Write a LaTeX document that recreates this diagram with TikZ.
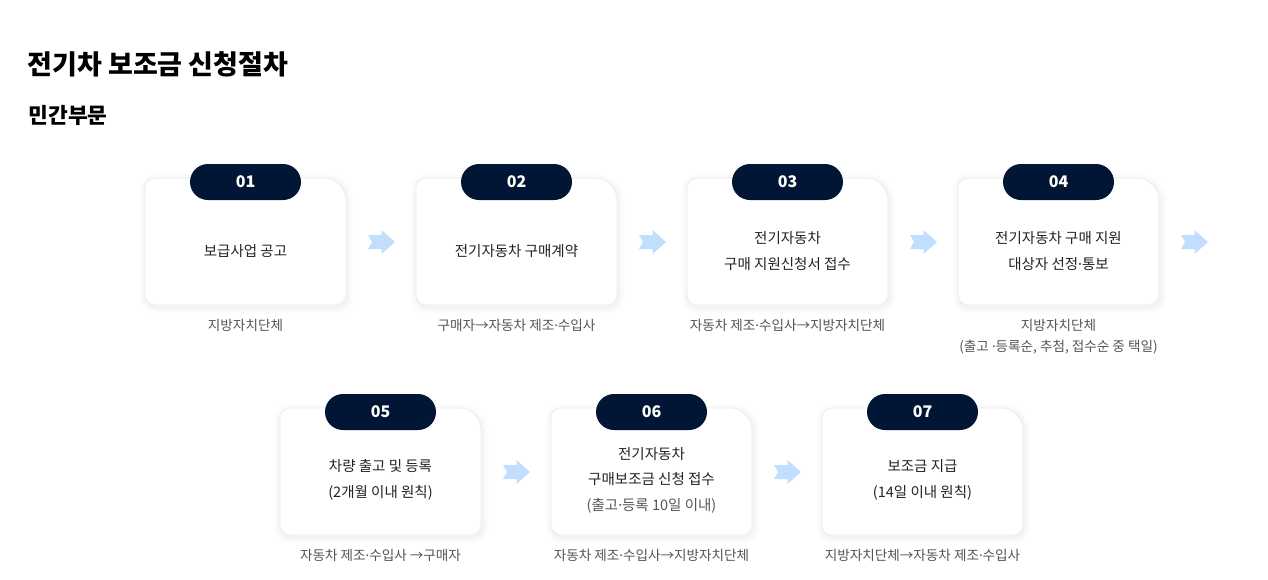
\documentclass[tikz,border=0pt]{standalone}
\usepackage{fontspec}
\setmainfont{Noto Sans CJK KR}
\newfontfamily\dotfont{Noto Sans}
\newcommand\md{{\dotfont ·}}
\definecolor{navy}{HTML}{011634}
\definecolor{ink}{HTML}{222222}
\definecolor{grey}{HTML}{555555}
\definecolor{edge}{HTML}{EDEDED}
\definecolor{sky}{HTML}{C2DEFF}
\tikzset{
  pics/card/.style={code={
    \foreach \w/\o in {14/0.008,10/0.01,6/0.012,3/0.015}
      \draw[line width=\w pt, black, opacity=\o, shift={(1,-2)}]
        (-90.5,63.5) -- (78.5,63.5) arc (90:0:22) -- (100.5,-53.5) arc (0:-90:10)
        -- (-90.5,-63.5) arc (270:180:10) -- (-100.5,53.5) arc (180:90:10) -- cycle;
    \filldraw[fill=white, draw=edge, line width=0.8pt]
        (-90.5,63.5) -- (78.5,63.5) arc (90:0:22) -- (100.5,-53.5) arc (0:-90:10)
        -- (-90.5,-63.5) arc (270:180:10) -- (-100.5,53.5) arc (180:90:10) -- cycle;
  }},
  pics/chev/.style={code={
    \fill[sky] (-13.5,7) -- (0,7) -- (0,12) -- (13.5,0) -- (0,-12) -- (0,-7)
      -- (-13.5,-7) -- (-9.5,0) -- cycle;
  }}
}
\begin{document}
\begin{tikzpicture}[x=1pt,y=1pt,
  badge/.style={fill=navy, text=white, rounded corners=18pt, minimum width=111pt,
    minimum height=36pt, inner sep=0pt, font=\fontsize{16}{18}\selectfont\bfseries},
  steptext/.style={align=center, text=ink, font=\fontsize{14.5}{25.5}\selectfont},
  who/.style={align=center, anchor=north, text=grey, font=\fontsize{13.6}{21}\selectfont}]
\useasboundingbox[fill=white] (0,0) rectangle (1268,-579);

% heading
\node[anchor=west, font=\fontsize{27}{30}\selectfont\bfseries] (title) at (24,-64) {전기차 보조금 신청절차};
\node[anchor=west, font=\fontsize{21.5}{24}\selectfont\bfseries] (part) at (25,-115) {민간부문};

% cards
\pic at (245.5,-241.5) {card};
\pic at (516.5,-241.5) {card};
\pic at (787.5,-241.5) {card};
\pic at (1058.5,-241.5) {card};
\pic at (380.5,-471.5) {card};
\pic at (651.5,-471.5) {card};
\pic at (922.5,-471.5) {card};

% arrows
\pic at (381.5,-242) {chev};
\pic at (652.5,-242) {chev};
\pic at (923.5,-242) {chev};
\pic at (1194.5,-242) {chev};
\pic at (516.5,-472) {chev};
\pic at (787.5,-472) {chev};

% badges
\node[badge] (n1) at (245.5,-182) {01};
\node[badge] (n2) at (516.5,-182) {02};
\node[badge] (n3) at (787.5,-182) {03};
\node[badge] (n4) at (1058.5,-182) {04};
\node[badge] (n5) at (380.5,-412) {05};
\node[badge] (n6) at (651.5,-412) {06};
\node[badge] (n7) at (922.5,-412) {07};

% step texts
\node[steptext] (s1) at (245.5,-251) {보급사업 공고};
\node[steptext] (s2) at (516.5,-251) {전기자동차 구매계약};
\node[steptext] (s3) at (787.5,-251) {전기자동차\\구매 지원신청서 접수};
\node[steptext] (s4) at (1058.5,-251) {전기자동차 구매 지원\\대상자 선정\md 통보};
\node[steptext] (s5) at (380.5,-480) {차량 출고 및 등록\\(2개월 이내 원칙)};
\node[steptext] (s6) at (651.5,-480) {전기자동차\\구매보조금 신청 접수\\\textcolor{grey}{(출고\md 등록 10일 이내)}};
\node[steptext] (s7) at (922.5,-480) {보조금 지급\\(14일 이내 원칙)};

% who does it
\node[who] (w1) at (245.5,-316) {지방자치단체};
\node[who] (w2) at (516.5,-316) {구매자→자동차 제조\md 수입사};
\node[who] (w3) at (787.5,-316) {자동차 제조\md 수입사→지방자치단체};
\node[who] (w4) at (1058.5,-316) {지방자치단체\\(출고 \md 등록순, 추첨, 접수순 중 택일)};
\node[who] (w5) at (380.5,-546) {자동차 제조\md 수입사 →구매자};
\node[who] (w6) at (651.5,-546) {자동차 제조\md 수입사→지방자치단체};
\node[who] (w7) at (922.5,-546) {지방자치단체→자동차 제조\md 수입사};
\end{tikzpicture}
\end{document}
